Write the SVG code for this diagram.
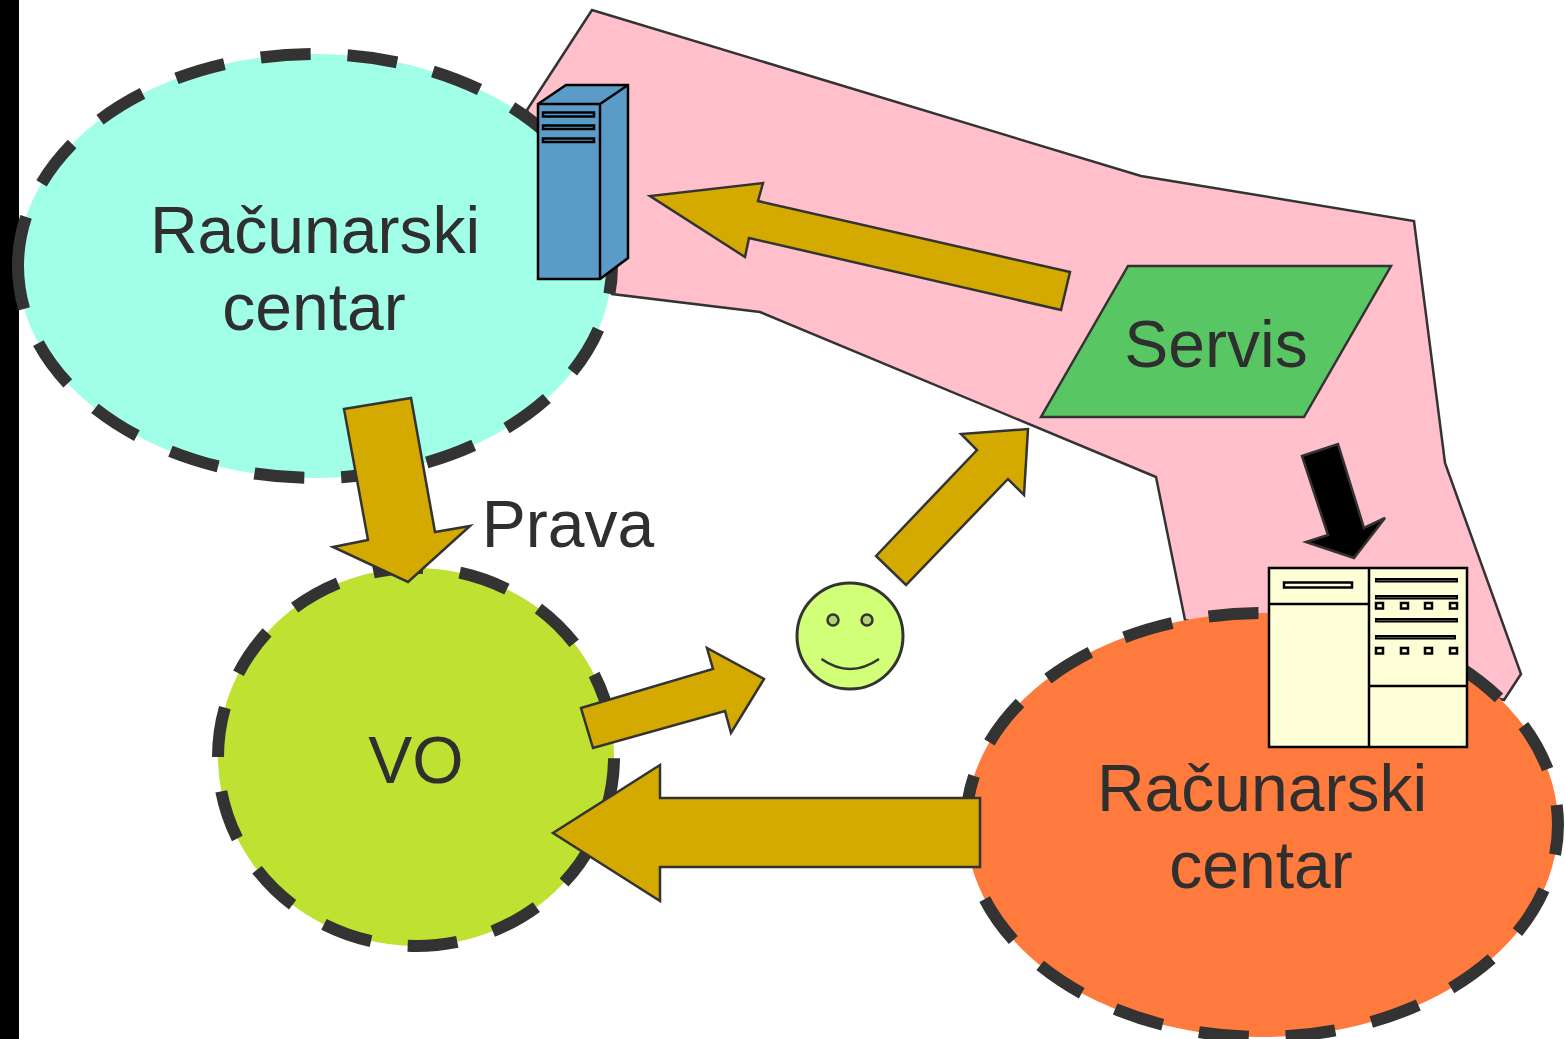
<svg xmlns="http://www.w3.org/2000/svg" width="1566" height="1039" viewBox="0 0 1566 1039">
<style>
text{font-family:"Liberation Sans",Arial,sans-serif;font-size:66px;fill:#2f2f2f;text-anchor:middle}
.dash{stroke:#333;stroke-width:12;stroke-dasharray:50 37}
.arrow{fill:#d4aa00;stroke:#333;stroke-width:2.500}
.srv{fill:#5b9bc8;stroke:#000;stroke-width:2.500}
.hw{fill:#ffffd7;stroke:#000;stroke-width:2.500}
.sl{fill:#aaa;stroke:#000;stroke-width:2}
.ln{fill:none}
</style>
<rect width="1566" height="1039" fill="#fff"/>
<rect x="0" y="0" width="19" height="1039" fill="#000"/>
<polygon id="zone" points="527,110 592,10 1141,176 1414,221 1445,463 1521,674 1504,700 1185,620 1156,477 760,312 612,294" fill="#ffc0cb" stroke="#333" stroke-width="2.500"/>
<g id="rc1"><path class="dash" d="M18,266A297,212 0 1 1 612,266A297,212 0 1 1 18,266Z" fill="#a0ffe6"/><text x="315" y="253">Računarski</text><text x="314" y="330">centar</text></g>
<g id="vo"><path class="dash" d="M218,757A198,189 0 1 1 614,757A198,189 0 1 1 218,757Z" fill="#bee132"/><text x="416" y="783">VO</text></g>
<g id="rc2"><path class="dash" d="M966,825A296,212 0 1 1 1558,825A296,212 0 1 1 966,825Z" fill="#ff7a3d"/><text x="1262" y="811">Računarski</text><text x="1261" y="888">centar</text></g>
<g id="servis"><polygon points="1128,266 1391,266 1304,417 1041,417" fill="#57c663" stroke="#333" stroke-width="2.500"/><text x="1216" y="367">Servis</text></g>
<g id="server"><polygon class="srv" points="538,104 566,85 628,85 628,258 600,279 538,279"/><path class="srv ln" d="M538,104H600L628,85M600,104V279"/><rect class="srv" x="543" y="112.500" width="51" height="4"/><rect class="srv" x="543" y="125.500" width="51" height="3.500"/><rect class="srv" x="543" y="138.500" width="51" height="3.500"/></g>
<g id="machine"><rect class="hw" x="1269" y="568" width="198" height="179"/><path class="hw ln" d="M1269,604H1369M1369,568V747M1368,686H1467"/><rect class="hw" x="1284" y="582.500" width="68" height="5"/><g class="sl"><rect x="1376" y="579" width="81" height="2.500"/><rect x="1376" y="596" width="81" height="2.500"/><rect x="1376" y="619" width="81" height="2.500"/><rect x="1376" y="636" width="79" height="2.500"/></g><g class="hw"><rect x="1376" y="603" width="7" height="5.500"/><rect x="1401" y="603" width="7" height="5.500"/><rect x="1425" y="603" width="7" height="5.500"/><rect x="1450" y="603" width="7" height="5.500"/><rect x="1376" y="648" width="7" height="5.500"/><rect x="1401" y="648" width="7" height="5.500"/><rect x="1425" y="648" width="7" height="5.500"/><rect x="1450" y="648" width="7" height="5.500"/></g></g>
<g id="user"><circle cx="850" cy="636" r="53" fill="#d2ff78" stroke="#333" stroke-width="3"/><circle cx="833" cy="620" r="5.500" fill="#afd26e" stroke="#333" stroke-width="2.500"/><circle cx="867" cy="620" r="5.500" fill="#afd26e" stroke="#333" stroke-width="2.500"/><path d="M821.500,659Q850,679 879,659" fill="none" stroke="#333" stroke-width="2.500"/></g>
<g id="connectors">
<polygon class="arrow" points="1070,272 1061,310 749,238 745,257 650,196 763,183 758,201"/>
<polygon class="arrow" points="344,409 411,398 435,532 470,526 408,582 333,547 368,540"/>
<polygon class="arrow" points="876,556 977,450 961,434 1028,429 1024,495 1008,479 906,585"/>
<polygon class="arrow" points="581,708 713,669 707,648 764,679 731,733 725,711 593,748"/>
<polygon class="arrow" points="980,798 660,798 660,765 553,833 660,901 660,867 980,867"/>
<polygon points="1302,456 1338,444 1364,528 1385,518 1354,558 1306,542 1328,535" fill="#000" stroke="#333" stroke-width="2.500"/>
</g>
<text x="568" y="547">Prava</text>
</svg>
